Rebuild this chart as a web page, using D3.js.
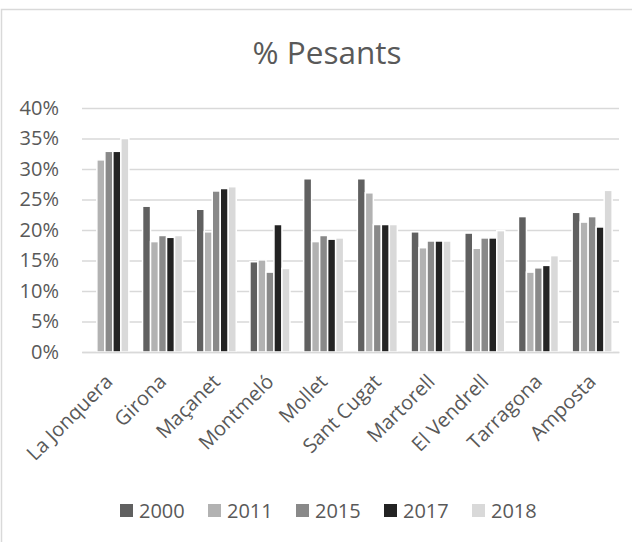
<!DOCTYPE html>
<html>
<head>
<meta charset="utf-8">
<script src="https://cdn.jsdelivr.net/npm/d3@7"></script>
<style>
  body { margin: 0; background: #fff; }
  svg { display: block; font-family: "Open Sans", sans-serif; }
</style>
</head>
<body>
<svg id="chart"></svg>
<script>
// Daten
const cities = ["La Jonquera", "Girona", "Maçanet", "Montmeló", "Mollet", "Sant Cugat", "Martorell", "El Vendrell", "Tarragona", "Amposta"];
const years = ["2000", "2011", "2015", "2017", "2018"];
const v2000 = [null, 23.9, 23.4, 14.8, 28.4, 28.4, 19.7, 19.5, 22.2, 22.9];
const v2011 = [31.5, 18.1, 19.7, 15.1, 18.1, 26.1, 17.1, 17.0, 13.1, 21.3];
const v2015 = [32.9, 19.1, 26.4, 13.1, 19.1, 20.9, 18.2, 18.7, 13.8, 22.2];
const v2017 = [32.9, 18.8, 26.8, 20.9, 18.5, 20.9, 18.2, 18.7, 14.2, 20.5];
const v2018 = [35.0, 19.1, 27.1, 13.7, 18.7, 20.9, 18.2, 19.9, 15.8, 26.5];
const yTicks = [0, 5, 10, 15, 20, 25, 30, 35, 40];
const colors = ["#606060", "#b2b2b2", "#898989", "#232323", "#d9d9d9"];

const series = [v2000, v2011, v2015, v2017, v2018];
const data = cities.map((c, i) => ({ city: c, values: years.map((y, j) => ({ year: y, value: series[j][i] })) }));

const width = 632, height = 542;
const plot = { left: 82, right: 619, top: 108, bottom: 352 };
const textColor = "#595959";

const svg = d3.select("#chart").attr("width", width).attr("height", height);

// Rahmen um das Diagramm
svg.append("rect")
  .attr("x", 1.5).attr("y", 9.5)
  .attr("width", width + 20).attr("height", height + 20)
  .attr("fill", "none").attr("stroke", "#d9d9d9").attr("stroke-width", 1.5);

const xScale = d3.scaleBand()
  .domain(cities)
  .range([plot.left, plot.right])
  .paddingInner(0.255)
  .paddingOuter(0.1275);

const xInner = d3.scaleBand()
  .domain(years)
  .range([0, xScale.bandwidth()]);

const yScale = d3.scaleLinear()
  .domain([0, 40])
  .range([plot.bottom, plot.top]);

const colorScale = d3.scaleOrdinal().domain(years).range(colors);

// Gitterlinien
const leftAxis = d3.axisLeft(yScale)
  .tickValues(yTicks)
  .tickSize(-(plot.right - plot.left))
  .tickFormat(d => d + "%")
  .tickPadding(23);

svg.append("g")
  .attr("transform", `translate(${plot.left}, 0)`)
  .call(leftAxis)
  .call(g => g.select(".domain").remove())
  .call(g => g.selectAll(".tick line").attr("stroke", "#d9d9d9").attr("stroke-width", 1.5))
  .call(g => g.selectAll(".tick text")
    .attr("fill", textColor)
    .attr("font-size", 20)
    .attr("font-family", "Open Sans, sans-serif"));

// Balken
svg.append("g")
  .selectAll("g")
  .data(data)
  .join("g")
  .attr("transform", d => `translate(${xScale(d.city)}, 0)`)
  .selectAll("rect")
  .data(d => d.values.filter(v => v.value !== null))
  .join("rect")
  .attr("x", d => xInner(d.year))
  .attr("width", xInner.bandwidth())
  .attr("y", d => yScale(d.value))
  .attr("height", d => yScale(0) - yScale(d.value))
  .attr("fill", d => colorScale(d.year))
  .attr("stroke", "#fff")
  .attr("stroke-width", 1.5);

// X-Achse
const bottomAxis = d3.axisBottom(xScale).tickSize(0).tickSizeOuter(0);
svg.append("g")
  .attr("transform", `translate(0, ${plot.bottom})`)
  .call(bottomAxis)
  .call(g => g.select(".domain").attr("stroke", "#d9d9d9").attr("stroke-width", 1.5))
  .call(g => g.selectAll(".tick text")
    .attr("fill", textColor)
    .attr("font-size", 20)
    .attr("font-family", "Open Sans, sans-serif")
    .attr("text-anchor", "end")
    .attr("dy", null)
    .attr("y", 0)
    .attr("transform", "translate(5, 31) rotate(-45)"));

// Titel
svg.append("text")
  .attr("x", 327).attr("y", 64)
  .attr("text-anchor", "middle")
  .attr("fill", textColor)
  .attr("font-size", 31.5)
  .text("% Pesants");

// Legende
const legend = svg.append("g")
  .selectAll("g")
  .data(years)
  .join("g")
  .attr("transform", (d, i) => `translate(${120 + 88 * i}, 504)`);

legend.append("rect")
  .attr("width", 13).attr("height", 13)
  .attr("fill", d => colorScale(d));

legend.append("text")
  .attr("x", 19).attr("y", 14)
  .attr("fill", textColor)
  .attr("font-size", 20)
  .text(d => d);
</script>
</body>
</html>
